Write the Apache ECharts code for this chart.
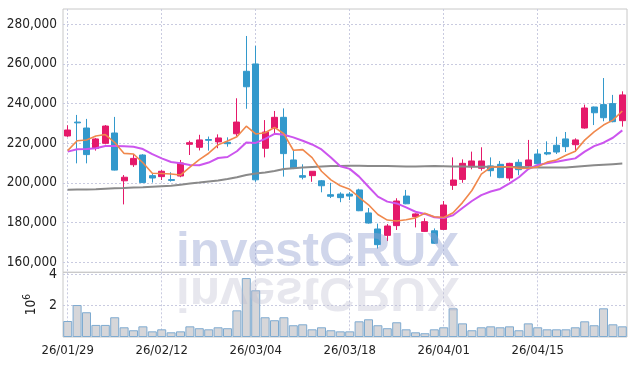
<!DOCTYPE html>
<html><head><meta charset="utf-8">
<script src="https://cdn.jsdelivr.net/npm/echarts@6/dist/echarts.min.js"></script>
<style>html,body{margin:0;padding:0;background:#fff}#c{width:637px;height:366px}</style>
</head><body><div id="c"></div>
<script>
const dates = ['26/01/29','26/01/30','26/02/02','26/02/03','26/02/04','26/02/05','26/02/06','26/02/09','26/02/10','26/02/11',
'26/02/12','26/02/13','26/02/19','26/02/20','26/02/23','26/02/24','26/02/25','26/02/26','26/02/27','26/03/03',
'26/03/04','26/03/05','26/03/06','26/03/09','26/03/10','26/03/11','26/03/12','26/03/13','26/03/16','26/03/17',
'26/03/18','26/03/19','26/03/20','26/03/23','26/03/24','26/03/25','26/03/26','26/03/27','26/03/30','26/03/31',
'26/04/01','26/04/02','26/04/03','26/04/06','26/04/07','26/04/08','26/04/09','26/04/10','26/04/13','26/04/14',
'26/04/15','26/04/16','26/04/17','26/04/20','26/04/21','26/04/22','26/04/23','26/04/24','26/04/27','26/04/28'];
const opens  = [223700,230700,227700,217400,220000,225200,201100,209200,214100,203700,203200,201700,203500,219500,218000,221900,220700,220500,224800,256300,
260000,217500,227700,233100,211600,203700,203700,201100,194100,194400,194400,196500,184900,176800,173600,178500,193400,183000,175600,175900,
176600,198800,201800,208200,207400,208600,209400,202500,210400,208600,214600,215300,219000,222200,219300,227700,238300,239500,240000,231400];
const closes = [226700,230300,214300,222200,228700,206500,202900,212400,200200,202500,205900,201300,210100,220300,221700,221500,222700,219800,230700,248500,
201600,225700,233100,214800,207400,202900,205900,198600,193300,192600,193400,186000,179800,168900,178300,190900,189500,184400,180500,169600,
188900,201500,209900,211100,211100,206200,202700,209900,206700,211600,209700,214600,215600,218300,221700,237800,235400,232900,230900,244400];
const lows   = [223200,209900,209900,216300,219500,206300,189200,208100,200000,200200,201500,200700,202900,214100,216400,216300,217500,218300,223700,237400,
200600,212900,225000,203200,207000,201800,200600,195300,192400,190300,191400,185800,179500,166900,170700,176300,189300,177600,175300,169300,
176300,196500,200100,206900,206200,203200,202400,201100,203900,208200,209500,214000,214600,215600,215600,227400,229200,231100,230600,228400];
const highs  = [229100,234300,232300,222700,229200,233300,204000,214600,214500,204900,206500,205400,211600,221300,224300,223400,224500,223000,242700,274100,
269100,231700,236300,237600,216300,209400,206000,201500,200100,195300,195400,197100,187400,179500,179300,192300,196500,184700,182200,177100,
190900,212900,211900,215800,218000,212900,211100,210200,211900,221700,217000,221000,223300,225700,222500,239500,238500,252900,244400,246200];
const ma5  = [216300,221300,221700,223700,224400,220400,214900,214600,210200,204900,204800,204500,204000,208000,211800,215000,219200,221200,223300,228600,
224700,225300,228000,224800,216500,216800,212800,205900,201600,198600,196800,192800,189000,184100,181300,180800,181500,182400,184700,183000,
182600,185000,190100,196200,204500,207900,208200,208200,207300,207400,208100,210500,211600,214000,216000,221600,225800,229200,231700,236300];
const ma20 = [215800,217000,217100,217500,218600,218600,218500,218300,217100,214500,212400,210600,209900,209100,208900,210300,212600,213100,216000,220400,
220200,222200,224800,224300,223000,221300,219400,216900,212800,208400,207100,203200,198100,193100,190600,189700,187700,185500,184400,182700,
182300,183700,187400,190900,193900,195700,197000,199800,202900,207000,209100,209900,210700,211600,212400,215800,218600,220300,222800,226500];
const ma60 = [196600,196700,196700,196800,197100,197400,197500,197700,197800,198100,198400,198600,199100,199700,200200,200800,201300,202000,202900,204000,
204800,205300,206000,207000,207400,207800,208100,208300,208500,208600,208700,208700,208600,208600,208500,208400,208300,208300,208400,208500,
208400,208300,208300,208200,208200,208200,208100,208100,208000,207900,207800,207800,207800,207800,208200,208600,208900,209200,209500,209800];
const volumes = [1.02,2.04,1.58,0.77,0.77,1.26,0.62,0.43,0.68,0.36,0.49,0.30,0.36,0.68,0.56,0.49,0.62,0.56,1.70,3.76,
2.98,1.26,1.07,1.26,0.75,0.81,0.49,0.62,0.43,0.36,0.36,1.00,1.13,0.75,0.56,0.94,0.49,0.30,0.24,0.49,
0.62,1.83,0.87,0.43,0.62,0.68,0.62,0.68,0.43,0.87,0.62,0.49,0.49,0.49,0.62,1.00,0.75,1.83,0.81,0.68];
const priceTicks = [160000,180000,200000,220000,240000,260000,280000];
const volumeTicks = [2,4];

const FONT = "'Liberation Sans Narrow','DejaVu Sans Condensed','Liberation Sans',sans-serif";
const UP = '#e5196a', DOWN = '#3399cc';
const gridLine = {type:[2,2], color:'#c9cbe0', width:1};
const ohlc = dates.map((d,i)=>[opens[i],closes[i],lows[i],highs[i]]);
const fmt = v => String(Math.round(v)).replace(/\B(?=(\d{3})+(?!\d))/g, ',');
const WM_FONT = "bold 49px 'Liberation Sans', Arial, sans-serif";

const chart = echarts.init(document.getElementById('c'), null, {renderer:'canvas'});
chart.setOption({
  animation:false,
  backgroundColor:'#fff',
  grid:[
    {left:63, right:10, top:9, height:293},
    {left:63, right:10, top:272.3, height:64.7, show:true, borderColor:'#c8c8c8', borderWidth:1, backgroundColor:'transparent'},
    {left:63, right:10, top:9, height:263.3, show:true, borderColor:'#c8c8c8', borderWidth:1, backgroundColor:'transparent'}
  ],
  xAxis:[
    {type:'category', gridIndex:0, data:dates, boundaryGap:true, show:false},
    {type:'category', gridIndex:1, data:dates, boundaryGap:true,
     axisLine:{show:false}, axisTick:{show:false},
     axisLabel:{interval:9, fontSize:13, color:'#222', fontFamily:FONT, margin:7},
     splitLine:{show:true, interval:9, alignWithLabel:true, lineStyle:gridLine}},
    {type:'category', gridIndex:2, data:dates, boundaryGap:true,
     axisLine:{show:false}, axisTick:{show:false}, axisLabel:{show:false},
     splitLine:{show:true, interval:9, alignWithLabel:true, lineStyle:gridLine}}
  ],
  yAxis:[
    {type:'value', gridIndex:0, min:140000, max:287700, interval:20000,
     axisLine:{show:false}, axisTick:{show:false},
     axisLabel:{showMinLabel:false, showMaxLabel:false, fontSize:13.5, color:'#222', fontFamily:FONT, margin:6,
       formatter:v=> priceTicks.indexOf(v)>=0 ? fmt(v) : ''},
     splitLine:{show:true, showMinLine:false, showMaxLine:false, lineStyle:gridLine}},
    {type:'value', gridIndex:1, min:0, max:4.128, interval:2,
     axisLine:{show:false}, axisTick:{show:false},
     name:'10{s|6}', nameLocation:'middle', nameRotate:90, nameGap:20,
     nameTextStyle:{fontSize:13.5, color:'#222', fontFamily:FONT, rich:{s:{fontSize:10, color:'#222', fontFamily:FONT, padding:[0,0,8,0]}}},
     axisLabel:{showMinLabel:false, showMaxLabel:false, fontSize:14, color:'#222', fontFamily:FONT, margin:6,
       formatter:v=> volumeTicks.indexOf(v)>=0 ? String(v) : ''},
     splitLine:{show:true, showMinLine:false, showMaxLine:false, lineStyle:gridLine}},
    {type:'value', gridIndex:2, show:false, splitLine:{show:false}}
  ],
  series:[
    {type:'candlestick', xAxisIndex:0, yAxisIndex:0, data:ohlc, barWidth:'70%',
     itemStyle:{color:UP, color0:DOWN, borderColor:UP, borderColor0:DOWN, borderWidth:1}},
    {type:'line', xAxisIndex:0, yAxisIndex:0, data:ma60, showSymbol:false, lineStyle:{color:'#8a8a8a', width:2}, z:3},
    {type:'line', xAxisIndex:0, yAxisIndex:0, data:ma20, showSymbol:false, lineStyle:{color:'#cc55ee', width:2}, z:3},
    {type:'line', xAxisIndex:0, yAxisIndex:0, data:ma5, showSymbol:false, lineStyle:{color:'#f0884c', width:1.6}, z:3},
    {type:'bar', xAxisIndex:1, yAxisIndex:1, data:volumes, barCategoryGap:'4%',
     itemStyle:{color:'#d6d6d9', borderColor:'#7eaad0', borderWidth:1}}
  ],
  graphic:{elements:[
    {type:'text', x:176, y:277, z:100, scaleX:1.01, silent:true,
     style:{text:'investCRUX', font:WM_FONT, fill:'rgba(150,165,210,0.45)', verticalAlign:'bottom', align:'left'}},
    {type:'text', x:176, y:267, z:100, scaleX:1.01, scaleY:-1, silent:true,
     style:{text:'investCRUX', font:WM_FONT, fill:'rgba(185,185,205,0.35)', verticalAlign:'bottom', align:'left'}}
  ]}
});
</script></body></html>
